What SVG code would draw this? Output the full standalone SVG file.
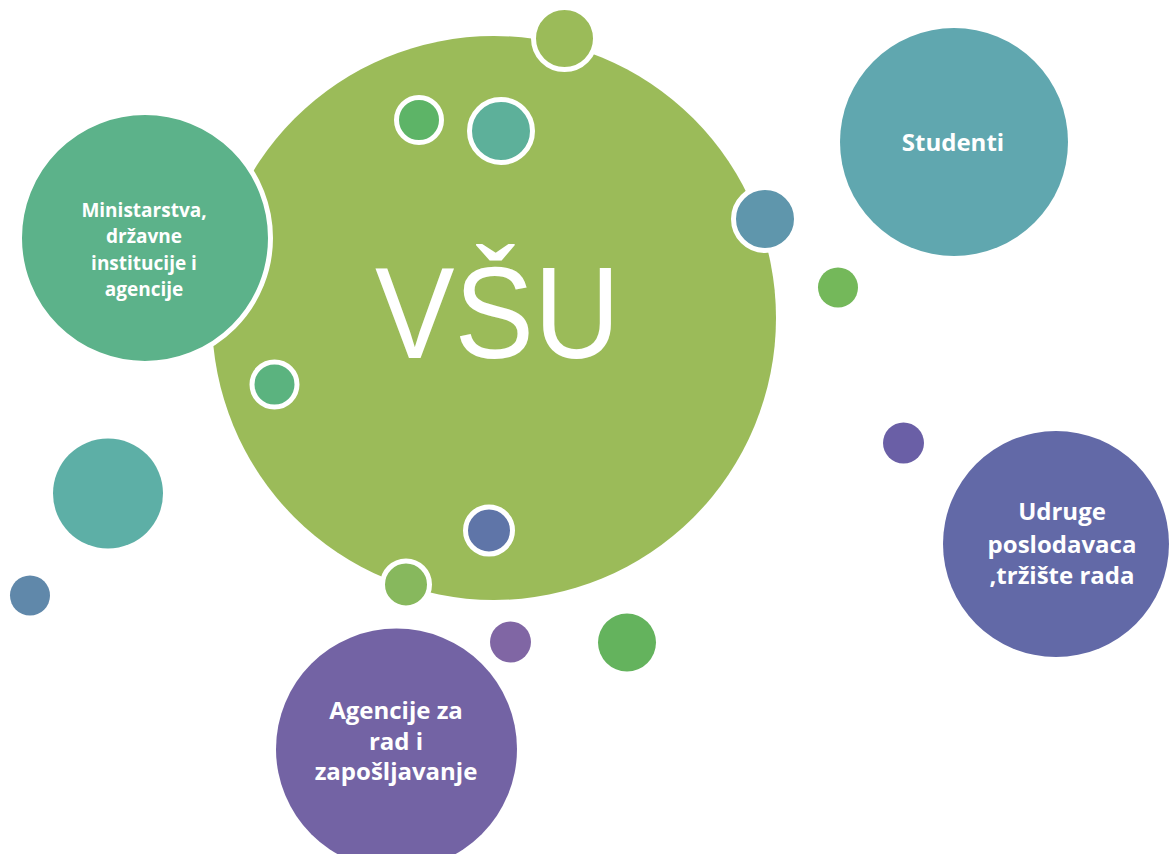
<svg xmlns="http://www.w3.org/2000/svg" width="1172" height="854" viewBox="0 0 1172 854">
<style>
.ring{stroke:#fff;stroke-width:5}
.lbl{font-family:"Open Sans","Noto Sans","Liberation Sans",sans-serif;font-weight:bold;fill:#fff;text-anchor:middle}
.main{font-family:"Liberation Sans",Arial,sans-serif;fill:#fff}
</style>
<rect width="1172" height="854" fill="#fff"/>
<g id="vsu">
<circle cx="494" cy="318" r="282" fill="#9BBB59"/>
<text class="main" x="375" y="358" font-size="130" textLength="245" lengthAdjust="spacingAndGlyphs">VŠU</text>
</g>
<g id="ministarstva">
<circle class="ring" cx="145" cy="238" r="125.5" fill="#5CB28A"/>
<text class="lbl" font-size="19"><tspan x="144" y="217">Ministarstva,</tspan><tspan x="144" y="243">državne</tspan><tspan x="144" y="270">institucije i</tspan><tspan x="144" y="296">agencije</tspan></text>
</g>
<g id="studenti">
<circle cx="954" cy="142" r="114" fill="#60A7AF"/>
<text class="lbl" font-size="24" x="953" y="151">Studenti</text>
</g>
<g id="udruge">
<circle cx="1056" cy="544" r="113" fill="#6269A7"/>
<text class="lbl" font-size="24"><tspan x="1062" y="520">Udruge</tspan><tspan x="1062" y="553">poslodavaca</tspan><tspan x="1062" y="584">,tržište rada</tspan></text>
</g>
<g id="agencije">
<circle cx="396.5" cy="749" r="120.5" fill="#7363A4"/>
<text class="lbl" font-size="24"><tspan x="396" y="719">Agencije za</tspan><tspan x="396" y="750">rad i</tspan><tspan x="396" y="780">zapošljavanje</tspan></text>
</g>
<g id="dot-top"><circle class="ring" cx="564.5" cy="38.5" r="31" fill="#9BBB59"/></g>
<g id="dot-green-1"><circle class="ring" cx="419" cy="120" r="22.5" fill="#5DB467"/></g>
<g id="dot-teal-1"><circle class="ring" cx="501" cy="131" r="31.5" fill="#5DB09A"/></g>
<g id="dot-blue-1"><circle class="ring" cx="765" cy="219" r="31.5" fill="#5F96AC"/></g>
<g id="dot-green-2"><circle cx="838" cy="287.5" r="20" fill="#74B85A"/></g>
<g id="dot-green-3"><circle class="ring" cx="274.5" cy="384.5" r="22.5" stroke-width="6" fill="#5BB37F"/></g>
<g id="dot-purple-1"><circle cx="903.5" cy="443" r="20.5" fill="#6A5FA6"/></g>
<g id="dot-blue-2"><circle class="ring" cx="489" cy="530.5" r="23.5" fill="#5F75A8"/></g>
<g id="dot-green-4"><circle class="ring" cx="406" cy="584.5" r="23.5" fill="#87B85D"/></g>
<g id="dot-purple-2"><circle cx="510.5" cy="642" r="20.5" fill="#8066A4"/></g>
<g id="dot-green-5"><circle cx="627" cy="642.5" r="29" fill="#64B35D"/></g>
<g id="dot-teal-2"><circle cx="108" cy="493.5" r="55" fill="#5DAFA6"/></g>
<g id="dot-blue-3"><circle cx="30" cy="595.5" r="20" fill="#6088AA"/></g>
</svg>
